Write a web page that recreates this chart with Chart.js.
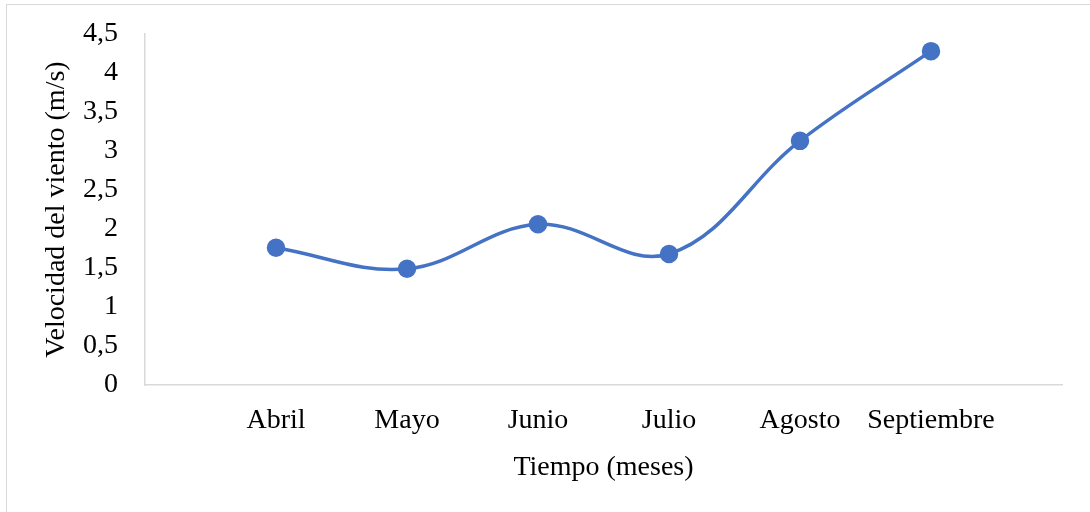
<!DOCTYPE html>
<html lang="es">
<head>
    <meta charset="UTF-8">
    <title>Velocidad del viento</title>
    <script src="https://cdn.jsdelivr.net/npm/chart.js"></script>
    <style>
        body {
            margin: 0;
            background: #fff;
        }

        .frame {
            position: absolute;
            left: 6px;
            top: 4px;
            width: 1100px;
            height: 520px;
            border: 1px solid #d9d9d9;
        }

        .chart-container {
            position: absolute;
            left: 0;
            top: 0;
            width: 1090px;
            height: 512px;
        }
    </style>
</head>
<body>
    <div class="frame"></div>
    <div class="chart-container">
        <canvas id="vientoChart"></canvas>
    </div>

    <script>
        const meses = ['Abril', 'Mayo', 'Junio', 'Julio', 'Agosto', 'Septiembre'];
        const velocidad = [1.76, 1.49, 2.06, 1.68, 3.13, 4.28];
        const yTicks = [0, 0.5, 1, 1.5, 2, 2.5, 3, 3.5, 4, 4.5];

        const serif = "'Liberation Serif', 'Times New Roman', serif";

        // empty slot on each side so the points sit inside the axis like in Excel
        const labels = [''].concat(meses, ['']);
        const valores = [null].concat(velocidad, [null]);

        const ctx = document.getElementById('vientoChart').getContext('2d');
        new Chart(ctx, {
            type: 'line',
            data: {
                labels: labels,
                datasets: [{
                    data: valores,
                    borderColor: '#4472C4',
                    backgroundColor: '#4472C4',
                    borderWidth: 3.5,
                    pointRadius: 7.5,
                    pointHoverRadius: 7.5,
                    tension: 0.38,
                    spanGaps: true
                }]
            },
            options: {
                responsive: true,
                maintainAspectRatio: false,
                animation: false,
                layout: {
                    padding: { left: 0, right: 28, top: 34, bottom: 0 }
                },
                plugins: {
                    legend: { display: false },
                    tooltip: { enabled: false }
                },
                scales: {
                    x: {
                        offset: false,
                        grid: { display: false, drawTicks: false },
                        border: { display: true, color: '#d9d9d9', width: 1.5 },
                        ticks: {
                            color: '#000',
                            padding: 19,
                            maxRotation: 0,
                            autoSkip: false,
                            font: { family: serif, size: 28 }
                        },
                        title: {
                            display: true,
                            text: 'Tiempo (meses)',
                            color: '#000',
                            padding: { top: 0, bottom: 28 },
                            font: { family: serif, size: 28 }
                        },
                        afterFit: function (scale) {
                            scale.height = 127;
                            scale.paddingLeft = 0;
                            scale.paddingRight = 0;
                        }
                    },
                    y: {
                        min: 0,
                        max: 4.5,
                        afterBuildTicks: function (scale) {
                            scale.ticks = yTicks.map(v => ({ value: v }));
                        },
                        grid: { display: false, drawTicks: false },
                        border: { display: true, color: '#d9d9d9', width: 1.5 },
                        ticks: {
                            color: '#000',
                            padding: 27,
                            font: { family: serif, size: 28 },
                            callback: v => String(v).replace('.', ',')
                        },
                        title: {
                            display: true,
                            text: 'Velocidad del viento (m/s)',
                            color: '#000',
                            padding: { top: 40, bottom: 0 },
                            font: { family: serif, size: 28 }
                        },
                        afterFit: function (scale) {
                            scale.width = 145;
                            scale.paddingTop = 0;
                            scale.paddingBottom = 0;
                        }
                    }
                }
            }
        });
    </script>
</body>
</html>
